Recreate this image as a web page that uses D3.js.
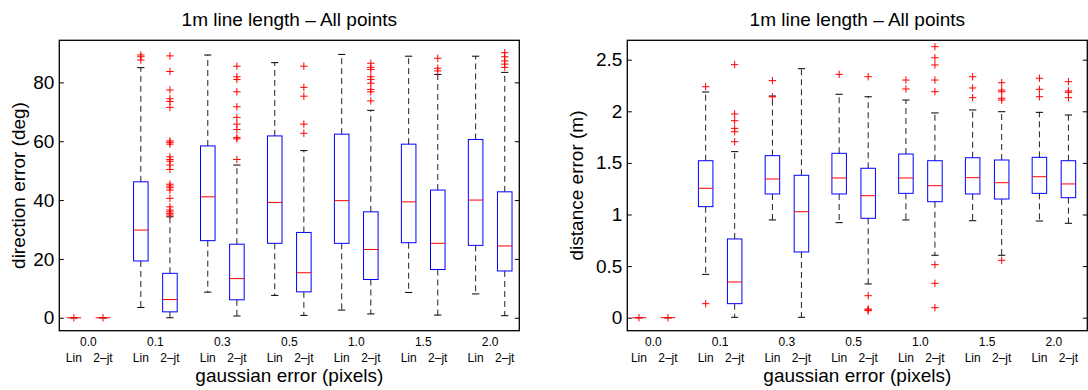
<!DOCTYPE html>
<html>
<head>
<meta charset="utf-8">
<script src="https://cdn.jsdelivr.net/npm/d3@7"></script>
<style>
  body { margin: 0; background: #fff; }
  text { font-family: "Liberation Sans", Arial, sans-serif; fill: #000; }
</style>
</head>
<body>
<svg id="chart" width="1088" height="390"></svg>
<script>
// categories
const groups = ["0.0", "0.1", "0.3", "0.5", "1.0", "1.5", "2.0"];
const methods = ["Lin", "2\u2013jt"];

const dirTicks = [0, 20, 40, 60, 80];
const distTicks = [0, 0.5, 1, 1.5, 2, 2.5];

// box stats, one entry per box: Lin, 2-jt for each group
const dirLow  = [0, 0, 3.5, 0, 8.7, 0.6, 7.6, 0.8, 2.6, 1.3, 8.6, 0.9, 8.1, 0.7];
const dirQ1   = [0, 0, 19.3, 2.0, 26.2, 6.1, 25.3, 8.8, 25.3, 13.0, 25.5, 16.4, 24.6, 15.9];
const dirMed  = [0, 0, 29.8, 6.2, 41.1, 13.3, 39.2, 15.3, 39.8, 23.2, 39.4, 25.3, 40.0, 24.4];
const dirQ3   = [0, 0, 46.2, 15.1, 58.4, 25.0, 61.8, 29.0, 62.4, 36.0, 59.0, 43.4, 60.6, 42.8];
const dirHigh = [0, 0, 85.0, 34.3, 89.3, 51.9, 86.7, 56.8, 89.5, 70.5, 88.9, 82.7, 88.9, 83.4];
const dirOut = [
  [0], [0],
  [87.6, 88.7, 89.3],
  [34.9, 35.4, 36.0, 36.6, 37.7, 40.6, 43.4, 44.2, 44.8, 45.4, 50.4, 51.9, 53.2, 53.8, 54.7, 59.0, 59.6, 60.1, 71.5, 73.5, 74.4, 77.4, 83.7, 89.0],
  [],
  [53.8, 60.8, 61.3, 64.0, 65.8, 68.1, 71.7, 76.8, 81.0, 81.9, 85.5],
  [],
  [62.7, 65.8, 75.3, 78.3, 85.5],
  [],
  [73.7, 76.8, 77.6, 79.7, 81.0, 81.9, 84.4, 85.1, 86.5],
  [],
  [83.9, 84.8, 88.2],
  [],
  [85.1, 86.2, 87.3, 88.7, 90.1]
];

const distLow  = [0, 0, 0.42, 0.004, 0.947, 0.004, 0.921, 0.327, 0.947, 0.605, 0.94, 0.605, 0.937, 0.915];
const distQ1   = [0, 0, 1.076, 0.136, 1.199, 0.637, 1.199, 0.963, 1.205, 1.124, 1.199, 1.150, 1.205, 1.163];
const distMed  = [0, 0, 1.254, 0.346, 1.344, 1.027, 1.354, 1.182, 1.354, 1.279, 1.357, 1.308, 1.366, 1.296];
const distQ3   = [0, 0, 1.521, 0.763, 1.570, 1.380, 1.593, 1.448, 1.586, 1.521, 1.550, 1.528, 1.554, 1.521];
const distHigh = [0, 0, 2.187, 1.609, 2.148, 2.413, 2.165, 2.141, 2.109, 1.984, 2.013, 1.996, 1.990, 1.964];
const distOut = [
  [0], [0],
  [0.136, 2.238],
  [1.705, 1.802, 1.835, 1.909, 1.974, 2.452],
  [2.14, 2.297],
  [],
  [2.358],
  [0.068, 0.075, 0.084, 0.213, 2.335],
  [2.216, 2.303],
  [0.097, 0.333, 0.514, 2.19, 2.303, 2.449, 2.519, 2.626],
  [2.132, 2.226, 2.335],
  [0.556, 2.109, 2.126, 2.19, 2.206, 2.277],
  [2.141, 2.213, 2.32],
  [2.132, 2.184, 2.197, 2.287]
];

const svg = d3.select("#chart");
const plotTop = 40.3, plotBottom = 330.7;
const groupStep = 2.3;

function drawPanel(cfg) {
  const x = d3.scaleLinear().domain(cfg.xDomain).range([cfg.left, cfg.right]);
  const y = d3.scaleLinear().domain(cfg.yDomain).range([plotBottom, plotTop]);
  const g = svg.append("g");

  const boxes = [];
  groups.forEach((grp, gi) => {
    methods.forEach((m, mi) => {
      const i = gi * 2 + mi;
      boxes.push({pos: gi * groupStep + mi, lo: cfg.lo[i], q1: cfg.q1[i], med: cfg.med[i],
                  q3: cfg.q3[i], hi: cfg.hi[i], out: cfg.out[i]});
    });
  });

  const halfW = 0.25, capW = 0.125;

  // ticks inside, both sides
  g.append("g")
    .attr("transform", "translate(" + cfg.left + ",0)")
    .call(d3.axisLeft(y).tickValues(cfg.ticks).tickFormat(d3.format("~g")).tickSize(-4.5).tickPadding(5))
    .call(a => a.select(".domain").remove())
    .call(a => a.attr("font-family", null).attr("font-size", null))
    .selectAll("text").style("font-size", "19px");
  g.append("g")
    .attr("transform", "translate(" + cfg.right + ",0)")
    .call(d3.axisRight(y).tickValues(cfg.ticks).tickFormat("").tickSize(-4.5))
    .call(a => a.select(".domain").remove());

  const b = g.selectAll(".bx").data(boxes).enter().append("g");

  // whiskers
  b.append("line")
    .attr("x1", d => x(d.pos)).attr("x2", d => x(d.pos))
    .attr("y1", d => y(d.q3)).attr("y2", d => y(d.hi))
    .attr("stroke", "#222").attr("stroke-dasharray", "6,4");
  b.append("line")
    .attr("x1", d => x(d.pos)).attr("x2", d => x(d.pos))
    .attr("y1", d => y(d.q1)).attr("y2", d => y(d.lo))
    .attr("stroke", "#222").attr("stroke-dasharray", "6,4");
  b.append("line")
    .attr("x1", d => x(d.pos - capW)).attr("x2", d => x(d.pos + capW))
    .attr("y1", d => y(d.hi)).attr("y2", d => y(d.hi))
    .attr("stroke", "#000");
  b.append("line")
    .attr("x1", d => x(d.pos - capW)).attr("x2", d => x(d.pos + capW))
    .attr("y1", d => y(d.lo)).attr("y2", d => y(d.lo))
    .attr("stroke", "#000");

  // box + median
  b.append("rect")
    .attr("x", d => x(d.pos - halfW))
    .attr("y", d => y(d.q3))
    .attr("width", d => x(d.pos + halfW) - x(d.pos - halfW))
    .attr("height", d => y(d.q1) - y(d.q3))
    .attr("fill", "none").attr("stroke", "#0000ff");
  b.append("line")
    .attr("x1", d => x(d.pos - halfW)).attr("x2", d => x(d.pos + halfW))
    .attr("y1", d => y(d.med)).attr("y2", d => y(d.med))
    .attr("stroke", "#ff0000");

  // outliers as red +
  b.selectAll(".o").data(d => d.out.map(v => ({pos: d.pos, v: v}))).enter()
    .append("path")
    .attr("d", d => {
      const cx = x(d.pos), cy = y(d.v);
      return "M" + (cx - 3.7) + "," + cy + "H" + (cx + 3.7) + "M" + cx + "," + (cy - 3.7) + "V" + (cy + 3.7);
    })
    .attr("stroke", "#ff0000").attr("fill", "none");

  // frame
  g.append("rect")
    .attr("x", cfg.left).attr("y", plotTop)
    .attr("width", cfg.right - cfg.left).attr("height", plotBottom - plotTop)
    .attr("fill", "none").attr("stroke", "#000").attr("stroke-width", 1.3);

  // category labels
  groups.forEach((grp, gi) => {
    g.append("text")
      .attr("x", x(gi * groupStep + 0.5)).attr("y", 346)
      .attr("text-anchor", "middle").style("font-size", "12px").text(grp);
    methods.forEach((m, mi) => {
      g.append("text")
        .attr("x", x(gi * groupStep + mi)).attr("y", 362.3)
        .attr("text-anchor", "middle").style("font-size", "12px").text(m);
    });
  });

  const mid = (cfg.left + cfg.right) / 2;
  g.append("text").attr("x", mid).attr("y", 382)
    .attr("text-anchor", "middle").style("font-size", "19px").text("gaussian error (pixels)");
  g.append("text").attr("x", mid).attr("y", 26)
    .attr("text-anchor", "middle").style("font-size", "19px").text("1m line length \u2013 All points");
  g.append("text")
    .attr("transform", "translate(" + cfg.yLabelX + "," + ((plotTop + plotBottom) / 2) + ") rotate(-90)")
    .attr("text-anchor", "middle").style("font-size", "19px").text(cfg.yLabel);
}

drawPanel({
  left: 59.3, right: 519.3, xDomain: [-0.5, 15.3], yDomain: [-4.4, 94.3],
  ticks: dirTicks, lo: dirLow, q1: dirQ1, med: dirMed, q3: dirQ3, hi: dirHigh, out: dirOut,
  yLabel: "direction error (deg)", yLabelX: 25
});

drawPanel({
  left: 627.3, right: 1087.3, xDomain: [-0.4, 15.45], yDomain: [-0.126, 2.688],
  ticks: distTicks, lo: distLow, q1: distQ1, med: distMed, q3: distQ3, hi: distHigh, out: distOut,
  yLabel: "distance error (m)", yLabelX: 583
});
</script>
</body>
</html>
